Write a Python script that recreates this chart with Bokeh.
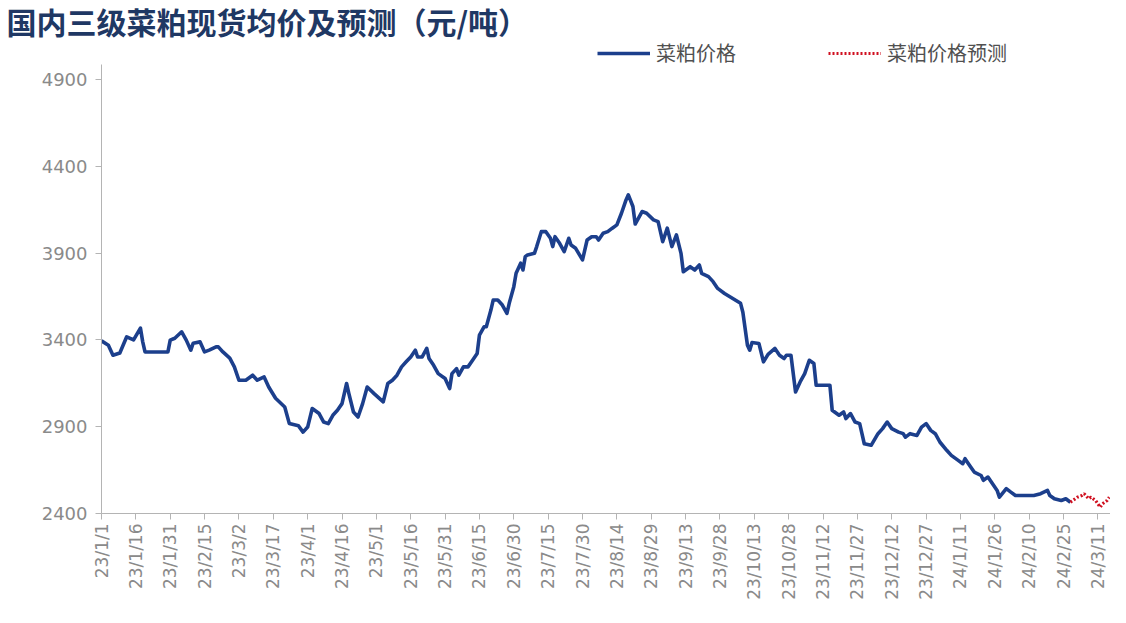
import pandas as pd
from bokeh.plotting import figure
from bokeh.models import FixedTicker, Legend, LegendItem, Range1d
from bokeh.embed import file_html
from bokeh.resources import INLINE

title_text = "国内三级菜粕现货均价及预测（元/吨）"
series_names = ["菜粕价格", "菜粕价格预测"]

actual_dates = [
    "2023-01-01", "2023-01-04", "2023-01-06", "2023-01-09", "2023-01-12", "2023-01-15",
    "2023-01-18", "2023-01-19", "2023-01-20", "2023-01-30", "2023-01-31", "2023-02-02",
    "2023-02-05", "2023-02-07", "2023-02-09", "2023-02-10", "2023-02-13", "2023-02-15",
    "2023-02-17", "2023-02-20", "2023-02-21", "2023-02-23", "2023-02-26", "2023-02-28",
    "2023-03-02", "2023-03-05", "2023-03-08", "2023-03-10", "2023-03-13", "2023-03-15",
    "2023-03-18", "2023-03-22", "2023-03-24", "2023-03-28", "2023-03-30", "2023-04-01",
    "2023-04-03", "2023-04-06", "2023-04-08", "2023-04-10", "2023-04-12", "2023-04-14",
    "2023-04-16", "2023-04-18", "2023-04-19", "2023-04-21", "2023-04-23", "2023-04-25",
    "2023-04-27", "2023-04-30", "2023-05-04", "2023-05-06", "2023-05-08", "2023-05-10",
    "2023-05-12", "2023-05-14", "2023-05-16", "2023-05-18", "2023-05-19", "2023-05-21",
    "2023-05-23", "2023-05-24", "2023-05-26", "2023-05-28", "2023-05-31", "2023-06-02",
    "2023-06-03", "2023-06-05", "2023-06-06", "2023-06-08", "2023-06-10", "2023-06-12",
    "2023-06-14", "2023-06-15", "2023-06-17", "2023-06-18", "2023-06-20", "2023-06-21",
    "2023-06-23", "2023-06-25", "2023-06-27", "2023-06-28", "2023-06-30", "2023-07-01",
    "2023-07-03", "2023-07-04", "2023-07-05", "2023-07-06", "2023-07-09", "2023-07-10",
    "2023-07-12", "2023-07-14", "2023-07-16", "2023-07-17", "2023-07-18", "2023-07-20",
    "2023-07-22", "2023-07-24", "2023-07-25", "2023-07-27", "2023-07-30", "2023-08-01",
    "2023-08-03", "2023-08-05", "2023-08-06", "2023-08-08", "2023-08-10", "2023-08-12",
    "2023-08-14", "2023-08-16", "2023-08-18", "2023-08-19", "2023-08-21", "2023-08-22",
    "2023-08-25", "2023-08-27", "2023-08-30", "2023-09-01", "2023-09-03", "2023-09-05",
    "2023-09-07", "2023-09-09", "2023-09-11", "2023-09-12", "2023-09-15", "2023-09-17",
    "2023-09-19", "2023-09-20", "2023-09-23", "2023-09-25", "2023-09-27", "2023-09-30",
    "2023-10-07", "2023-10-08", "2023-10-10", "2023-10-11", "2023-10-12", "2023-10-15",
    "2023-10-17", "2023-10-19", "2023-10-22", "2023-10-24", "2023-10-26", "2023-10-27",
    "2023-10-29", "2023-10-31", "2023-11-02", "2023-11-04", "2023-11-06", "2023-11-08",
    "2023-11-09", "2023-11-15", "2023-11-16", "2023-11-19", "2023-11-21", "2023-11-22",
    "2023-11-24", "2023-11-26", "2023-11-28", "2023-11-30", "2023-12-03", "2023-12-06",
    "2023-12-08", "2023-12-10", "2023-12-12", "2023-12-15", "2023-12-17", "2023-12-18",
    "2023-12-20", "2023-12-23", "2023-12-25", "2023-12-27", "2023-12-29", "2023-12-31",
    "2024-01-02", "2024-01-05", "2024-01-07", "2024-01-10", "2024-01-12", "2024-01-13",
    "2024-01-15", "2024-01-17", "2024-01-20", "2024-01-21", "2024-01-23", "2024-01-25",
    "2024-01-27", "2024-01-28", "2024-01-31", "2024-02-02", "2024-02-04", "2024-02-08",
    "2024-02-12", "2024-02-15", "2024-02-18", "2024-02-19", "2024-02-21", "2024-02-24",
    "2024-02-26", "2024-02-28",
]
actual_values = [
    3395, 3370, 3312, 3325, 3418, 3400,
    3468, 3389, 3331, 3331, 3399, 3410,
    3447, 3399, 3341, 3381, 3389, 3331,
    3341, 3360, 3360, 3331, 3295, 3245,
    3168, 3168, 3197, 3168, 3187, 3129,
    3064, 3014, 2918, 2905, 2869, 2898,
    3005, 2976, 2927, 2918, 2966, 2995,
    3033, 3149, 3091, 2985, 2956, 3033,
    3129, 3091, 3043, 3149, 3168, 3197,
    3245, 3274, 3302, 3341, 3302, 3302,
    3351, 3293, 3254, 3206, 3178, 3120,
    3206, 3235, 3197, 3245, 3245, 3283,
    3322, 3428, 3476, 3476, 3572, 3630,
    3630, 3601, 3553, 3611, 3707, 3784,
    3842, 3803, 3880, 3890, 3899, 3938,
    4024, 4024, 3986, 3938, 3995, 3957,
    3909, 3986, 3947, 3928, 3861, 3976,
    3995, 3995, 3976, 4015, 4024, 4044,
    4063, 4130, 4207, 4236, 4169, 4068,
    4140, 4130, 4092, 4082, 3966, 4044,
    3938, 4005, 3899, 3793, 3822, 3803,
    3832, 3784, 3765, 3736, 3697, 3668,
    3611, 3560, 3370, 3341, 3385, 3380,
    3274, 3317, 3351, 3312, 3293, 3312,
    3312, 3100, 3158, 3206, 3283, 3264,
    3139, 3139, 2995, 2966, 2985, 2947,
    2976, 2927, 2918, 2802, 2793, 2860,
    2889, 2927, 2889, 2869, 2860, 2840,
    2860, 2850, 2898, 2918, 2879, 2860,
    2812, 2764, 2735, 2706, 2687, 2716,
    2677, 2639, 2619, 2591, 2610, 2571,
    2533, 2494, 2543, 2523, 2504, 2504,
    2504, 2514, 2533, 2504, 2485, 2475,
    2485, 2465,
]

forecast_dates = [
    "2024-02-28", "2024-03-02", "2024-03-04", "2024-03-05", "2024-03-07", "2024-03-08",
    "2024-03-10", "2024-03-12", "2024-03-13", "2024-03-15", "2024-03-16",
]
forecast_values = [2465, 2494, 2504, 2514, 2485, 2494, 2475, 2436, 2456, 2475, 2494]

tick_dates = [
    "2023-01-01", "2023-01-16", "2023-01-31", "2023-02-15", "2023-03-02", "2023-03-17",
    "2023-04-01", "2023-04-16", "2023-05-01", "2023-05-16", "2023-05-31", "2023-06-15",
    "2023-06-30", "2023-07-15", "2023-07-30", "2023-08-14", "2023-08-29", "2023-09-13",
    "2023-09-28", "2023-10-13", "2023-10-28", "2023-11-12", "2023-11-27", "2023-12-12",
    "2023-12-27", "2024-01-11", "2024-01-26", "2024-02-10", "2024-02-25", "2024-03-11",
]
tick_labels = [
    "23/1/1", "23/1/16", "23/1/31", "23/2/15", "23/3/2", "23/3/17",
    "23/4/1", "23/4/16", "23/5/1", "23/5/16", "23/5/31", "23/6/15",
    "23/6/30", "23/7/15", "23/7/30", "23/8/14", "23/8/29", "23/9/13",
    "23/9/28", "23/10/13", "23/10/28", "23/11/12", "23/11/27", "23/12/12",
    "23/12/27", "24/1/11", "24/1/26", "24/2/10", "24/2/25", "24/3/11",
]
y_ticks = [2400, 2900, 3400, 3900, 4400, 4900]


def to_ms(d):
    return int(pd.Timestamp(d).timestamp() * 1000)


x_start = to_ms("2023-01-01")
x_end = to_ms("2024-03-16 12:00")

p = figure(
    width=1110, height=607,
    x_axis_type="datetime",
    x_range=Range1d(x_start, x_end),
    y_range=Range1d(2400, 5137),
    output_backend="svg",
    toolbar_location=None,
    min_border_left=101, min_border_right=0,
    min_border_bottom=94, min_border_top=0,
)
p.outline_line_color = None
p.xgrid.visible = False
p.ygrid.visible = False
p.background_fill_color = "white"
p.border_fill_color = "white"

p.title.text = title_text
p.title.text_font = "Noto Sans CJK SC"
p.title.text_font_size = "30px"
p.title.text_font_style = "bold"
p.title.text_color = "#1f3864"
p.title.align = "left"
p.title.offset = -95
p.title.standoff = -8

axis_color = "#b4b4b4"
label_color = "#8a8a8a"

tick_ms = [to_ms(d) for d in tick_dates]
xa = p.xaxis[0]
xa.ticker = FixedTicker(ticks=tick_ms)
xa.major_label_overrides = {t: lab for t, lab in zip(tick_ms, tick_labels)}
xa.major_label_orientation = 1.5707963267948966
xa.major_label_text_font = "DejaVu Sans"
xa.major_label_text_font_size = "17px"
xa.major_label_text_color = label_color
xa.axis_line_color = axis_color
xa.major_tick_line_color = axis_color
xa.major_tick_out = 6
xa.major_tick_in = 0
xa.minor_tick_line_color = None
xa.major_label_standoff = 4

ya = p.yaxis[0]
ya.ticker = FixedTicker(ticks=y_ticks)
ya.bounds = (2400, 4990)
ya.major_label_text_font = "DejaVu Sans"
ya.major_label_text_font_size = "18px"
ya.major_label_text_color = label_color
ya.axis_line_color = axis_color
ya.major_tick_line_color = axis_color
ya.major_tick_out = 6
ya.major_tick_in = 0
ya.minor_tick_line_color = None
ya.major_label_standoff = 8

r_actual = p.line(pd.to_datetime(actual_dates), actual_values,
                  line_color="#1c3f8c", line_width=3.6, line_join="round")
r_fc = p.line(pd.to_datetime(forecast_dates), forecast_values,
              line_color="#d01020", line_width=3.2, line_dash="2 2")

legend = Legend(
    items=[LegendItem(label=series_names[0], renderers=[r_actual]),
           LegendItem(label=series_names[1], renderers=[r_fc])],
    orientation="horizontal",
    location=(496, 446),
    glyph_width=53,
    label_standoff=6,
    spacing=92,
    padding=0,
    margin=0,
    label_text_font="Noto Sans CJK SC",
    label_text_font_size="20px",
    label_text_color="#505050",
    border_line_color=None,
    background_fill_alpha=0,
)
p.add_layout(legend)

open("out.html", "w").write(file_html(p, INLINE))
